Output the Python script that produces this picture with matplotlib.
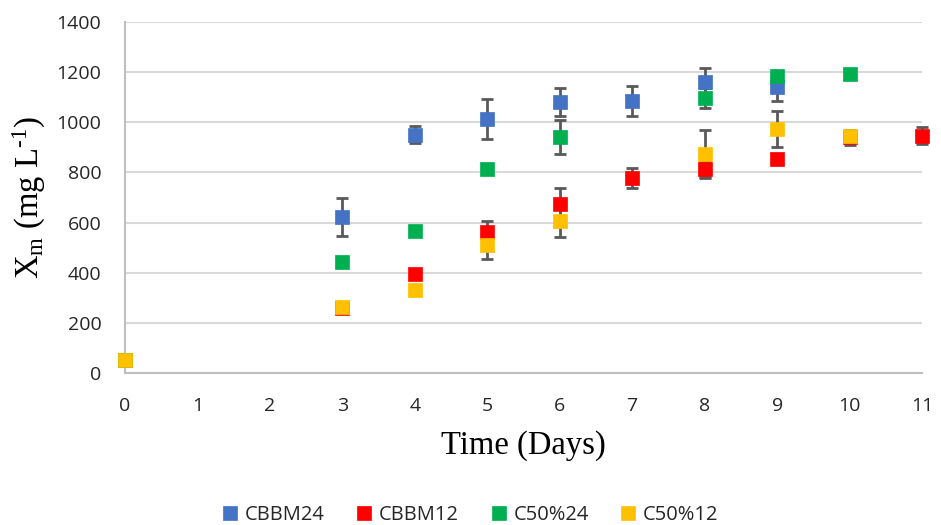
import numpy as np
import matplotlib
matplotlib.use("Agg")
import matplotlib.pyplot as plt

plt.rcParams["mathtext.fontset"] = "custom"
plt.rcParams["mathtext.rm"] = "Liberation Serif"
plt.rcParams["mathtext.it"] = "Liberation Serif:italic"

nan = np.nan
days = [0, 1, 2, 3, 4, 5, 6, 7, 8, 9, 10, 11]
series_names = ["CBBM24", "CBBM12", "C50%24", "C50%12"]
colors = ["#4472C4", "#FF0000", "#00B050", "#FFC000"]

cbbm24 = [50, nan, nan, 622, 951, 1013, 1082, 1086, 1159, 1139, nan, nan]
cbbm24_err = [0, 0, 0, 75, 35, 80, 55, 60, 57, 53, 0, 0]
cbbm12 = [50, nan, nan, 260, 394, 562, 675, 778, 814, 854, 940, 947]
cbbm12_err = [0, 0, 0, 0, 0, 45, 62, 40, 33, 0, 30, 35]
c50_24 = [50, nan, nan, 443, 566, 814, 943, nan, 1097, 1183, 1192, nan]
c50_24_err = [0, 0, 0, 0, 0, 0, 68, 0, 40, 0, 0, 0]
c50_12 = [50, nan, nan, 264, 330, 509, 606, nan, 874, 973, 947, nan]
c50_12_err = [0, 0, 0, 0, 0, 55, 64, 0, 95, 72, 0, 0]

values = [cbbm24, cbbm12, c50_24, c50_12]
errors = [cbbm24_err, cbbm12_err, c50_24_err, c50_12_err]

y_ticks = [0, 200, 400, 600, 800, 1000, 1200, 1400]

fig = plt.figure(figsize=(9.41, 5.25), dpi=100)
ax = fig.add_axes([0.1328, 0.2895, 0.9798 - 0.1328, 0.958 - 0.2895])

x = np.array(days, dtype=float)
handles = []
for name, col, v, e in zip(series_names, colors, values, errors):
    v = np.array(v, dtype=float)
    e = np.array(e, dtype=float)
    m = ~np.isnan(v)
    xe, ve, ee = x[m], v[m], e[m]
    em = ee > 0
    if em.any():
        ax.errorbar(xe[em], ve[em], yerr=ee[em], fmt="none", ecolor="#595959",
                    elinewidth=2, capsize=4.5, capthick=2, zorder=3, clip_on=False)
    h, = ax.plot(xe, ve, linestyle="none", marker="s", markersize=10.5,
                 color=col, markeredgecolor=col, markeredgewidth=0.5,
                 zorder=4, label=name, clip_on=False)
    handles.append(h)

ax.set_xlim(0, 11)
ax.set_ylim(0, 1400)
ax.set_xticks(days)
ax.set_yticks(y_ticks)
ax.yaxis.grid(True, color="#D9D9D9", linewidth=1.5)
ax.set_axisbelow(True)
for s in ["top", "right"]:
    ax.spines[s].set_visible(False)
for s in ["left", "bottom"]:
    ax.spines[s].set_color("#BFBFBF")
    ax.spines[s].set_linewidth(1.5)
ax.tick_params(length=0, labelsize=14)
ax.tick_params(axis="x", pad=17)
ax.tick_params(axis="y", pad=17)
for lab in ax.get_xticklabels() + ax.get_yticklabels():
    lab.set_fontfamily("Open Sans")
    lab.set_color("#262626")

ax.set_xlabel("Time (Days)", fontfamily="Liberation Serif", fontsize=23.5, labelpad=11)
ax.set_ylabel(r"X$_{\mathregular{m}}$ (mg L$^{\text{-1}}$)",
              fontfamily="Liberation Serif", fontsize=23.5, labelpad=6)

leg = fig.legend(handles=handles, loc="lower center", bbox_to_anchor=(0.5, -0.035),
                 ncol=4, frameon=False, handlelength=0.75, handletextpad=0.35,
                 columnspacing=1.6, markerscale=0.95,
                 prop={"family": "Open Sans", "size": 14.5})
for t in leg.get_texts():
    t.set_color("#262626")

fig.savefig("out.png", dpi=100)
